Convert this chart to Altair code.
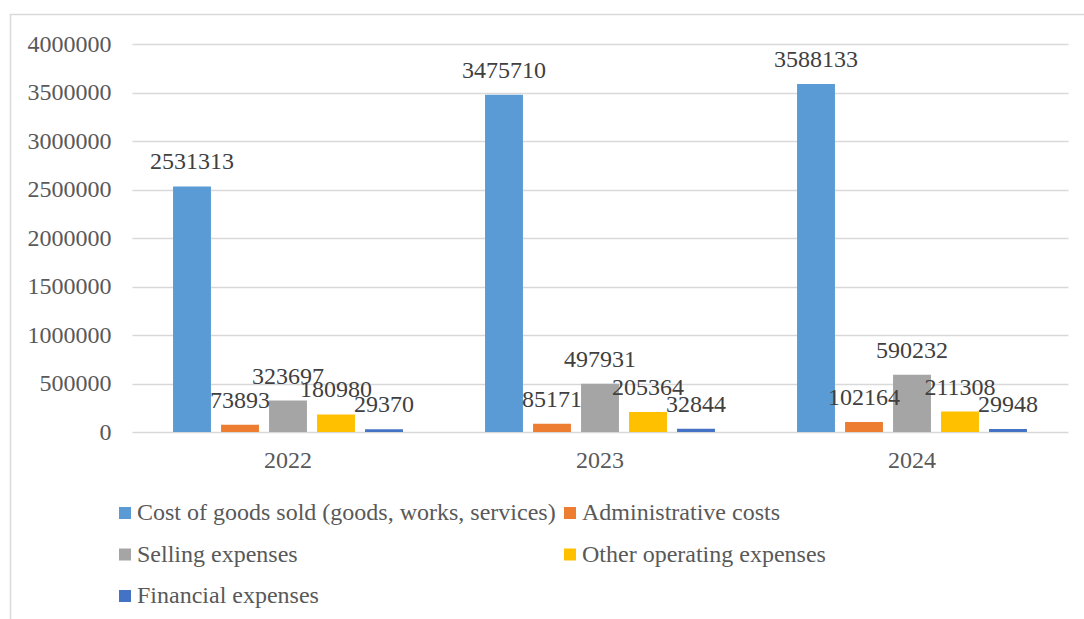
import altair as alt
import pandas as pd

years = ["2022", "2023", "2024"]
series = [
    "Cost of goods sold (goods, works, services)",
    "Administrative costs",
    "Selling expenses",
    "Other operating expenses",
    "Financial expenses",
]
cost_goods = [2531313, 3475710, 3588133]
admin = [73893, 85171, 102164]
selling = [323697, 497931, 590232]
other_op = [180980, 205364, 211308]
financial = [29370, 32844, 29948]
colors = ["#5B9BD5", "#ED7D31", "#A5A5A5", "#FFC000", "#4472C4"]
y_ticks = [0, 500000, 1000000, 1500000, 2000000, 2500000, 3000000, 3500000, 4000000]

rows = []
for vals, name in zip([cost_goods, admin, selling, other_op, financial], series):
    for yr, v in zip(years, vals):
        rows.append({"Year": yr, "Series": name, "Value": v})
df = pd.DataFrame(rows)

FONT = "Liberation Serif"

base = alt.Chart(df).encode(
    x=alt.X("Year:N", sort=years,
            scale=alt.Scale(paddingInner=0, paddingOuter=0),
            axis=alt.Axis(title=None, labelAngle=0, domain=False, ticks=False,
                          labelPadding=16, labelFontSize=24, labelFont=FONT,
                          labelColor="#595959", grid=False)),
    xOffset=alt.XOffset("Series:N", sort=series,
                        scale=alt.Scale(paddingInner=0.21, paddingOuter=0.855)),
)

bars = base.mark_bar().encode(
    y=alt.Y("Value:Q",
            scale=alt.Scale(domain=[0, 4000000], nice=False),
            axis=alt.Axis(title=None, values=y_ticks, format="d", domain=False,
                          ticks=False, labelPadding=21, labelFontSize=24,
                          labelFont=FONT, labelColor="#595959",
                          gridColor="#D9D9D9", gridWidth=1.5)),
    color=alt.Color("Series:N", sort=series,
                    scale=alt.Scale(domain=series, range=colors),
                    legend=alt.Legend(title=None, orient="none", legendX=-19,
                                      legendY=457, columns=2, padding=0,
                                      direction="horizontal",
                                      symbolType="square", symbolSize=144,
                                      symbolStrokeWidth=0,
                                      labelFontSize=24, labelFont=FONT,
                                      labelColor="#595959", labelOffset=0,
                                      labelLimit=0, rowPadding=17.5,
                                      columnPadding=2)),
)

labels = base.mark_text(baseline="alphabetic", dy=-17, fontSize=24, font=FONT,
                        color="#404040").encode(
    y=alt.Y("Value:Q"),
    text=alt.Text("Value:Q", format="d"),
)

border = alt.Chart(pd.DataFrame({"a": [0]})).mark_rect(
    fill=None, stroke="#D9D9D9", strokeWidth=1.5, clip=False
).encode(
    x=alt.value(-121.5), x2=alt.value(1200),
    y=alt.value(-29.5), y2=alt.value(800),
)

chart = alt.layer(border, bars, labels).properties(
    width=936, height=388,
    padding={"left": 132, "top": 44, "right": 16, "bottom": 187},
    autosize=alt.AutoSizeParams(type="none"),
).configure_view(stroke=None)

chart.save("out.html", embed_options={"renderer": "svg", "actions": False})
